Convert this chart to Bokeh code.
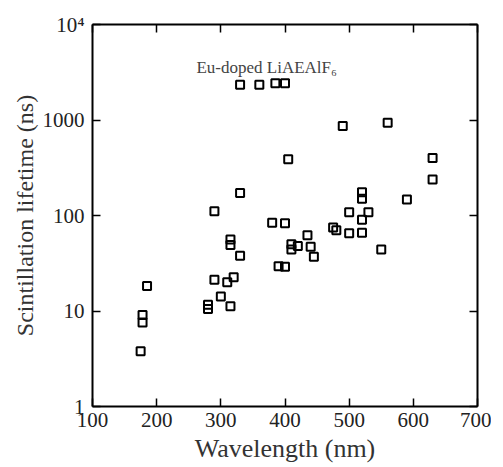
from bokeh.plotting import figure
from bokeh.models import LinearAxis, LogAxis, FixedTicker, Label, Range1d, ColumnDataSource
from bokeh.embed import file_html
from bokeh.resources import INLINE

# Data
wavelength_nm = [330, 360, 385, 400, 490, 560, 405, 630, 630, 330, 290, 520, 520, 590,
                 500, 530, 520, 380, 400, 475, 480, 500, 520, 435, 315, 315, 410, 410,
                 420, 440, 445, 330, 550, 390, 400, 185, 290, 310, 320, 300, 280, 280,
                 315, 178, 178, 175]
lifetime_ns = [2340, 2340, 2430, 2430, 865, 935, 389, 400, 238, 172, 111, 175, 150, 147,
               108, 108, 90, 84, 83, 75, 70, 65, 66, 62, 56, 49, 50, 44,
               48, 47, 37, 38, 44, 29.5, 29, 18.3, 21.2, 20, 22.6, 14.2, 11.6, 10.5,
               11.2, 9.1, 7.6, 3.8]

x_ticks = [100, 200, 300, 400, 500, 600, 700]
y_ticks = [1, 10, 100, 1000, 10000]
y_tick_labels = ["1", "10", "100", "1000", "10\u2074"]

annotation_text = "Eu-doped LiAEAlF\u2086"
annotation_x = 262
annotation_y = 3550

FONT = "Liberation Serif"

p = figure(frame_width=385, frame_height=382, output_backend="svg", toolbar_location=None,
           y_axis_type="log", x_range=Range1d(100, 700), y_range=Range1d(1, 10000),
           min_border_left=92, min_border_top=24, min_border_right=14, min_border_bottom=40,
           x_axis_label="Wavelength (nm)", y_axis_label="Scintillation lifetime (ns)")
p.outline_line_color = None
p.xgrid.visible = False
p.ygrid.visible = False

src = ColumnDataSource(dict(x=wavelength_nm, y=lifetime_ns))
p.scatter("x", "y", source=src, marker="square", size=8, line_color="black",
          line_width=2, fill_color=None)

overrides = {t: l for t, l in zip(y_ticks, y_tick_labels)}

def style_axis(ax):
    ax.axis_line_width = 2
    ax.axis_line_color = "black"
    ax.major_tick_line_width = 1.5
    ax.major_tick_line_color = "black"
    ax.major_tick_in = 8
    ax.major_tick_out = 0
    ax.minor_tick_line_color = None
    ax.major_label_text_font = FONT
    ax.major_label_text_font_size = "21px"
    ax.major_label_text_color = "#222222"
    ax.axis_label_text_font = FONT
    ax.axis_label_text_font_style = "normal"
    ax.axis_label_text_color = "#333333"

xa = p.xaxis[0]
xa.ticker = FixedTicker(ticks=x_ticks)
style_axis(xa)
xa.axis_label_text_font_size = "26px"
xa.major_label_standoff = 6
xa.axis_label_standoff = 4

ya = p.yaxis[0]
ya.ticker = FixedTicker(ticks=y_ticks)
ya.major_label_overrides = overrides
style_axis(ya)
ya.axis_label_text_font_size = "24px"
ya.major_label_standoff = 8
ya.axis_label_standoff = 2

top = LinearAxis(ticker=FixedTicker(ticks=x_ticks))
style_axis(top)
top.major_label_text_font_size = "1px"
top.major_label_text_color = None
top.major_label_standoff = 0
p.add_layout(top, "above")

right = LogAxis(ticker=FixedTicker(ticks=y_ticks))
style_axis(right)
right.major_label_text_font_size = "1px"
right.major_label_text_color = None
right.major_label_standoff = 0
p.add_layout(right, "right")

p.add_layout(Label(x=annotation_x, y=annotation_y, text=annotation_text,
                   text_font=FONT, text_font_size="17px", text_color="#444444",
                   text_baseline="alphabetic"))

open("out.html", "w").write(file_html(p, INLINE))
